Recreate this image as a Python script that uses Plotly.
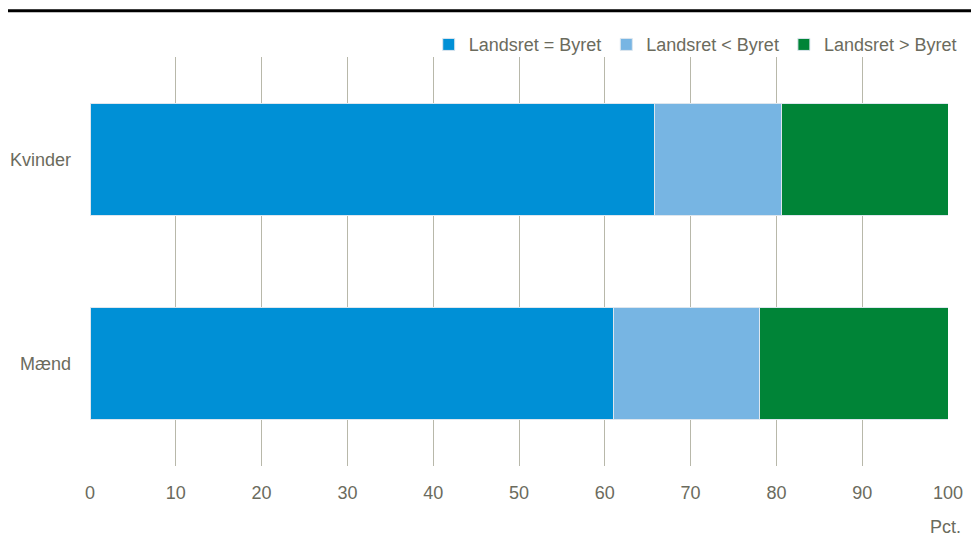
import plotly.graph_objects as go

categories = ["Mænd", "Kvinder"]
series_names = ["Landsret = Byret", "Landsret < Byret", "Landsret > Byret"]
equal_vals = [61.0, 65.8]
lower_vals = [17.0, 14.8]
higher_vals = [22.0, 19.4]
tick_vals = list(range(0, 101, 10))

colors = ["#0090d6", "#77b5e3", "#008437"]
TXT = "#6b6b5d"
FONT = "Liberation Sans Narrow, Arial Narrow, Liberation Sans, sans-serif"

fig = go.Figure()
for name, vals, c in zip(series_names, [equal_vals, lower_vals, higher_vals], colors):
    fig.add_trace(go.Bar(name=name, y=categories, x=vals, orientation="h",
                         marker=dict(color=c, line=dict(color="#dde6ee", width=1))))

# page body has an 8px margin, so the figure is 8px smaller and offset
fig.update_layout(
    barmode="stack",
    bargap=0.45,
    width=971, height=539,
    margin=dict(l=81.5, r=31, t=49, b=81),
    plot_bgcolor="white", paper_bgcolor="white",
    font=dict(family=FONT, size=18, color=TXT),
    legend=dict(orientation="h", xanchor="right", x=1.016, yanchor="middle", y=1.03,
                font=dict(size=18, color=TXT), traceorder="normal",
                itemwidth=30, bgcolor="rgba(0,0,0,0)"),
    xaxis=dict(range=[0, 100], tickvals=tick_vals, showgrid=True, gridcolor="#b8b8aa",
               gridwidth=1, zeroline=False, showline=False, ticks="", automargin=False,
               tickfont=dict(size=18, color=TXT), ticklabelstandoff=14),
    yaxis=dict(showgrid=False, zeroline=False, showline=False, ticks="", automargin=False,
               tickfont=dict(size=18, color=TXT), ticklabelstandoff=18),
    shapes=[dict(type="line", xref="paper", yref="paper", x0=-0.11, x1=1.04,
                 y0=1.113, y1=1.113, line=dict(color="black", width=3))],
    annotations=[dict(text="Pct.", xref="paper", yref="paper", x=1.017, y=-0.148,
                      xanchor="right", yanchor="middle", showarrow=False,
                      font=dict(size=18, color=TXT))],
)

fig.write_html("out.html")
